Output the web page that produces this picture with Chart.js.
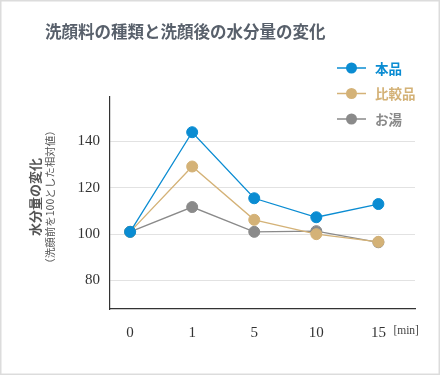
<!DOCTYPE html>
<html><head><meta charset="utf-8">
<script src="https://cdn.jsdelivr.net/npm/chart.js@4/dist/chart.umd.min.js"></script>
<style>html,body{margin:0;padding:0;background:#fff}#wrap{width:440px;height:375px;position:relative}</style>
</head><body><div id="wrap"><canvas id="c" width="440" height="375"></canvas></div>
<script>
const categories = ['0', '1', '5', '10', '15'];
const honpin = [101, 144, 115.5, 107.3, 113];
const hikaku = [101, 129.2, 106.2, 100, 96.7];
const oyu = [101, 111.7, 101, 101.3, 96.5];
const yTicks = [80, 100, 120, 140];
const seriesNames = ['本品', '比較品', 'お湯'];
const colors = ['#0a8cd2', '#d4b277', '#8a8a8a'];
const titleText = '洗顔料の種類と洗顔後の水分量の変化';
const yTitle = '水分量の変化';
const ySub = '（洗顔前を100とした相対値）';
const unitText = '[min]';

const CJK = '"Noto Sans CJK JP", sans-serif';
const SERIF = '"Liberation Serif", "DejaVu Serif", serif';

function toPts(arr){ return arr.map((v,i)=>({x:i,y:v})); }

const deco = {
  id:'deco',
  afterDraw(chart){
    const ctx = chart.ctx;
    ctx.save();
    ctx.strokeStyle = '#dcdcdc'; ctx.lineWidth = 1.5;
    ctx.strokeRect(0.75, 0.75, 438.5, 373.5);
    ctx.fillStyle = '#58606b';
    ctx.font = 'bold 16.5px ' + CJK;
    ctx.textBaseline = 'middle'; ctx.textAlign = 'left';
    ctx.fillText(titleText, 45, 32);
    seriesNames.forEach((n,i)=>{
      const y = 68 + i*25.5;
      ctx.strokeStyle = colors[i]; ctx.lineWidth = 1.5;
      ctx.beginPath(); ctx.moveTo(337,y); ctx.lineTo(366,y); ctx.stroke();
      ctx.fillStyle = colors[i];
      ctx.beginPath(); ctx.arc(351.5,y,5.5,0,Math.PI*2); ctx.fill();
      ctx.font = 'bold 13.5px ' + CJK;
      ctx.textAlign = 'left'; ctx.textBaseline = 'middle';
      ctx.fillText(n, 375, y+0.5);
    });
    ctx.fillStyle = '#555';
    ctx.save();
    ctx.translate(35, 197); ctx.rotate(-Math.PI/2);
    ctx.font = 'bold 13px ' + CJK; ctx.textAlign='center'; ctx.textBaseline='middle';
    ctx.fillText(yTitle, 0, 0);
    ctx.restore();
    ctx.save();
    ctx.translate(50, 197); ctx.rotate(-Math.PI/2);
    ctx.font = '10.5px ' + CJK; ctx.textAlign='center'; ctx.textBaseline='middle';
    ctx.fillText(ySub, 0, 0);
    ctx.restore();
    const xs = chart.scales.x;
    ctx.fillStyle = '#444';
    ctx.font = '11.5px ' + SERIF; ctx.textAlign='left'; ctx.textBaseline='middle';
    ctx.fillText(unitText, xs.getPixelForValue(categories.length-1) + 15, 331);
    ctx.restore();
  }
};

const mk = (label, data, color) => ({
  label, data: toPts(data), borderColor: color, backgroundColor: color,
  pointBackgroundColor: color, pointBorderColor: color, borderWidth: 1.3,
  pointRadius: 5.5, pointBorderWidth: 1, pointHoverRadius: 5.5, tension: 0
});

new Chart(document.getElementById('c'), {
  type: 'line',
  data: { datasets: [mk(seriesNames[0], honpin, colors[0]), mk(seriesNames[1], hikaku, colors[1]), mk(seriesNames[2], oyu, colors[2])] },
  options: {
    responsive: false, animation: false, devicePixelRatio: 1,
    layout: { padding: { left: 70, top: 97, right: 25, bottom: 26 } },
    plugins: { legend: { display: false }, tooltip: { enabled: false }, title: { display: false } },
    scales: {
      x: {
        type: 'linear', min: -0.324, max: 4.59,
        afterBuildTicks: s => { s.ticks = categories.map((c,i)=>({value:i})); },
        afterFit: s => { s.height = 40; },
        grid: { display: false },
        border: { display: true, color: '#333', width: 1.2 },
        ticks: { callback: v => categories[v], color: '#333', padding: 7, font: { family: SERIF, size: 15 }, maxRotation: 0 }
      },
      y: {
        min: 67.7, max: 159.2,
        afterBuildTicks: s => { s.ticks = yTicks.map(v=>({value:v})); },
        afterFit: s => { s.width = 40; },
        grid: { color: '#e2e2e2', lineWidth: 1, drawTicks: false },
        border: { display: true, color: '#333', width: 1.2 },
        ticks: { color: '#333', padding: 10, font: { family: SERIF, size: 15 } }
      }
    }
  },
  plugins: [deco]
});
</script></body></html>
